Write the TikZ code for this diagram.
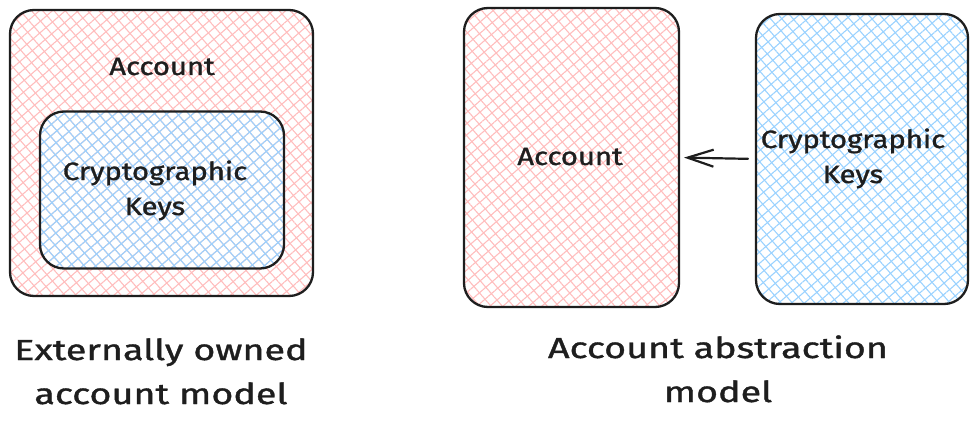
\documentclass[tikz,border=0pt]{standalone}
\usepackage{fontspec}
\setmainfont{Fira Sans}[FakeStretch=1.17,FakeBold=1.3]
\newfontfamily\capfont{Fira Sans}[FakeStretch=1.3,FakeBold=1.3]
\usetikzlibrary{patterns.meta,arrows.meta}
\definecolor{ink}{HTML}{1E1E1E}
\definecolor{pinkh}{HTML}{FFBDBD}
\definecolor{blueh}{HTML}{9AD2FF}
\tikzset{
  box/.style={draw=ink, line width=2.3pt, rounded corners=24pt, inner sep=0pt, outer sep=0pt},
  pinkfill/.style={
    preaction={pattern={Lines[angle=41,distance=8.5pt,line width=1.1pt]},pattern color=pinkh},
    preaction={pattern={Lines[angle=-49,distance=8.5pt,line width=1.1pt]},pattern color=pinkh}},
  bluefill/.style={
    preaction={pattern={Lines[angle=41,distance=8.5pt,line width=1.1pt]},pattern color=blueh},
    preaction={pattern={Lines[angle=-49,distance=8.5pt,line width=1.1pt]},pattern color=blueh}},
  lbl/.style={text=ink, font=\fontsize{25}{35}\selectfont, align=center, inner sep=0pt},
  captxt/.style={text=ink, font=\capfont\fontsize{29}{44}\selectfont, align=center, inner sep=0pt},
  arr/.style={draw=ink, line width=2.2pt, line cap=round, -{Straight Barb[length=26pt,width=17pt]}}
}
\begin{document}
\begin{tikzpicture}[x=1pt,y=-1pt]
\useasboundingbox (0,0) rectangle (978,428);
% left diagram
\node[box,pinkfill,minimum width=303pt,minimum height=286pt] (eoa) at (161.5,153) {};
\node[box,bluefill,minimum width=244pt,minimum height=157pt] (keysL) at (162,190) {};
\node[lbl,anchor=base] (acctLtxt) at (162,75) {Account};
\node[lbl,anchor=base] (keysLtxt) at (155,215) {Cryptographic\\Keys};
% right diagram
\node[box,pinkfill,minimum width=215pt,minimum height=299pt] (acct) at (571.5,157.5) {};
\node[box,bluefill,minimum width=212pt,minimum height=290pt] (keys) at (862,159) {};
\node[lbl,anchor=base] (acctRtxt) at (570,165) {Account};
\node[lbl,anchor=base] (keysRtxt) at (853,183) {Cryptographic\\Keys};
\draw[arr, shorten <=8pt, shorten >=5pt] (keys.west) -- (acct.east);
% captions
\node[captxt,anchor=base] (capL) at (161,404) {Externally owned\\account model};
\node[captxt,anchor=base] (capR) at (718,402) {Account abstraction\\model};
\end{tikzpicture}
\end{document}
